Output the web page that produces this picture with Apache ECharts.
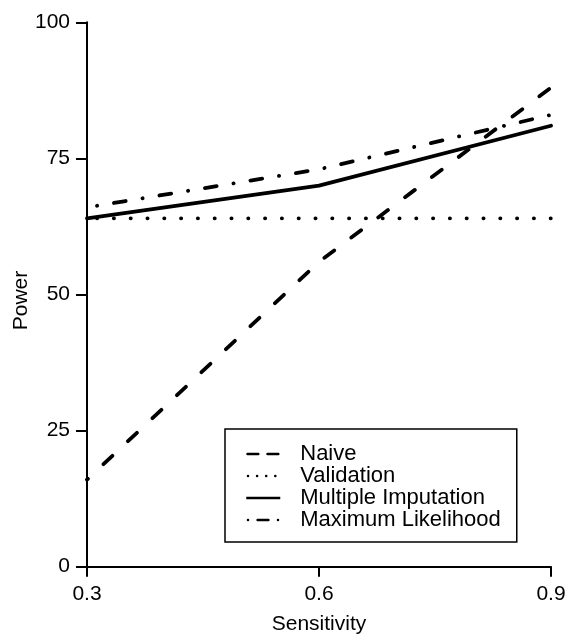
<!DOCTYPE html>
<html>
<head>
<meta charset="utf-8">
<script src="https://cdn.jsdelivr.net/npm/echarts@6/dist/echarts.min.js"></script>
<style>
  html, body { margin: 0; padding: 0; background: #fff; }
  #chart { width: 565px; height: 634px; }
</style>
</head>
<body>
<div id="chart"></div>
<script>
const sensitivity = ['0.3', '0.6', '0.9'];
const powerTicks = [0, 25, 50, 75, 100];

const naive = [16, 56, 88];
const validation = [64, 64, 64];
const multipleImputation = [64, 70, 81];
const maximumLikelihood = [66, 73, 83];

const FONT = 'Liberation Sans';
const LW = 3.8;

const chart = echarts.init(document.getElementById('chart'), null, { renderer: 'canvas' });

const mkLine = (name, data, type, offset) => ({
  name,
  type: 'line',
  data,
  symbol: 'none',
  silent: true,
  color: '#000',
  lineStyle: { color: '#000', width: LW, type, dashOffset: offset || 0, cap: 'round', join: 'round' },
  emphasis: { disabled: true }
});

chart.setOption({
  animation: false,
  backgroundColor: '#fff',
  grid: { left: 87, right: 14, top: 22.3, bottom: 67.3, outerBoundsMode: 'none' },
  xAxis: {
    type: 'category',
    data: sensitivity,
    boundaryGap: false,
    name: 'Sensitivity',
    nameLocation: 'middle',
    nameGap: 47,
    nameMoveOverlap: false,
    nameTextStyle: { fontFamily: FONT, fontSize: 21, color: '#000' },
    axisLine: { lineStyle: { color: '#000', width: 2 } },
    axisTick: { length: 10, lineStyle: { color: '#000', width: 2 } },
    axisLabel: { fontFamily: FONT, fontSize: 21, color: '#000', margin: 17 },
    splitLine: { show: false }
  },
  yAxis: {
    type: 'value',
    min: powerTicks[0],
    max: powerTicks[powerTicks.length - 1],
    interval: 25,
    name: 'Power',
    nameLocation: 'middle',
    nameGap: 55,
    nameMoveOverlap: false,
    nameTextStyle: { fontFamily: FONT, fontSize: 21, color: '#000', padding: [0, 12, 0, 0] },
    axisLine: { show: true, lineStyle: { color: '#000', width: 2 } },
    axisTick: { show: true, length: 11, lineStyle: { color: '#000', width: 2 } },
    axisLabel: { fontFamily: FONT, fontSize: 21, color: '#000', margin: 17 },
    splitLine: { show: false }
  },
  legend: {
    orient: 'vertical',
    left: 225,
    top: 429,
    padding: [14, 16, 11, 20],
    itemGap: 0,
    itemWidth: 34,
    itemHeight: 14,
    borderColor: '#000',
    borderWidth: 1.5,
    selectedMode: false,
    itemStyle: { color: 'rgba(0,0,0,0)', borderWidth: 0, opacity: 0 },
    textStyle: { fontFamily: FONT, fontSize: 22, color: '#000', lineHeight: 21.5, padding: [0, 0, 0, 15] },
    data: [
      { name: 'Naive', lineStyle: { color: '#000', width: 2.5, type: [10.8, 9.2], dashOffset: 18.75, cap: 'round' } },
      { name: 'Validation', lineStyle: { color: '#000', width: 2.5, type: [0.1, 9], dashOffset: 7.4, cap: 'round' } },
      { name: 'Multiple Imputation', lineStyle: { color: '#000', width: 2.5, type: 'solid', cap: 'butt' } },
      { name: 'Maximum Likelihood', lineStyle: { color: '#000', width: 2.5, type: [0.1, 9.55, 10.8, 9.55], dashOffset: 28.3, cap: 'round' } }
    ]
  },
  series: [
    mkLine('Naive', naive, [12.2, 21.4], 11),
    mkLine('Validation', validation, [0.2, 16.6], 6.8),
    mkLine('Multiple Imputation', multipleImputation, 'solid'),
    mkLine('Maximum Likelihood', maximumLikelihood, [0.2, 17, 11.9, 17], 36)
  ]
});
</script>
</body>
</html>
